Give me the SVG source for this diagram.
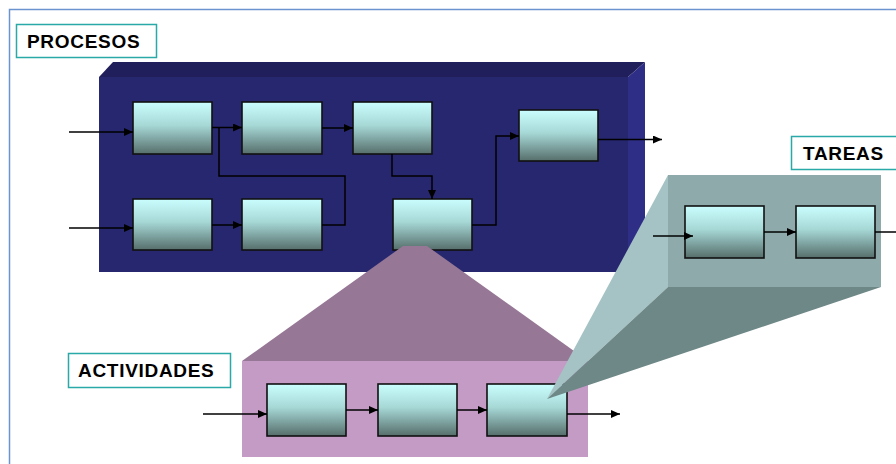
<svg xmlns="http://www.w3.org/2000/svg" width="896" height="464" viewBox="0 0 896 464">
  <defs>
    <linearGradient id="boxGrad" x1="0" y1="0" x2="0" y2="1">
      <stop offset="0" stop-color="#cafefe"/>
      <stop offset="0.45" stop-color="#a6d8d6"/>
      <stop offset="1" stop-color="#566e6b"/>
    </linearGradient>
    <marker id="arr" markerWidth="9" markerHeight="8" refX="9" refY="4" orient="auto" markerUnits="userSpaceOnUse">
      <path d="M0,0 L9,4 L0,8 Z" fill="#000"/>
    </marker>
  </defs>
  <style>
    .box { fill: url(#boxGrad); stroke: #111; stroke-width: 1.6; }
    .conn { fill: none; stroke: #000; stroke-width: 1.5; }
    .lab { fill: #fff; stroke: #2aa9a9; stroke-width: 1.5; }
    .labt { font-family: "Liberation Sans", Arial, sans-serif; font-weight: bold; font-size: 19px; letter-spacing: 0.7px; fill: #000; }
  </style>

  <rect width="896" height="464" fill="#fff"/>
  <!-- outer frame -->
  <path d="M9.5,464 L9.5,9.5 L896,9.5" fill="none" stroke="#6b93cf" stroke-width="1.5"/>

  <!-- PROCESOS panel -->
  <g id="procesos-panel">
    <rect x="99" y="77" width="529" height="195" fill="#27276f"/>
    <polygon points="113,62 645,62 628,77 99,77" fill="#211f5b"/>
    <polygon points="628,77 645,62 645,257 628,272" fill="#2e2e86"/>
  </g>

  <g id="p1"><rect class="box" x="133" y="102" width="79" height="52"/></g>
  <g id="p2"><rect class="box" x="242" y="102" width="80" height="52"/></g>
  <g id="p3"><rect class="box" x="353" y="102" width="79" height="52"/></g>
  <g id="p4"><rect class="box" x="133" y="199" width="79" height="51"/></g>
  <g id="p5"><rect class="box" x="242" y="199" width="80" height="51"/></g>
  <g id="p6"><rect class="box" x="393" y="199" width="79" height="51"/></g>
  <g id="p7"><rect class="box" x="519" y="110" width="79" height="51"/></g>

  <g id="connectors-procesos">
    <path class="conn" d="M69,132 L133,132" marker-end="url(#arr)"/>
    <path class="conn" d="M69,228 L133,228" marker-end="url(#arr)"/>
    <path class="conn" d="M212,127.5 L242,127.5" marker-end="url(#arr)"/>
    <path class="conn" d="M322,128 L353,128" marker-end="url(#arr)"/>
    <path class="conn" d="M219,127.5 L219,176 L345,176 L345,225 L322,225"/>
    <path class="conn" d="M212,225 L242,225" marker-end="url(#arr)"/>
    <path class="conn" d="M392,154 L392,176 L432,176 L432,199" marker-end="url(#arr)"/>
    <path class="conn" d="M472,225 L496,225 L496,136 L519,136" marker-end="url(#arr)"/>
    <path class="conn" d="M598,139.5 L662,139.5" marker-end="url(#arr)"/>
  </g>

  <!-- ACTIVIDADES panel -->
  <g id="actividades-panel">
    <polygon points="403,246 427,246 588,361 242,361" fill="#977796"/>
    <rect x="242" y="361" width="346" height="96" fill="#c39bc5"/>
  </g>

  <g id="a1"><rect class="box" x="267" y="384" width="79" height="52"/></g>
  <g id="a2"><rect class="box" x="378" y="384" width="79" height="52"/></g>
  <g id="a3"><rect class="box" x="487" y="384" width="80" height="52"/></g>

  <g id="connectors-actividades">
    <path class="conn" d="M203,414 L267,414" marker-end="url(#arr)"/>
    <path class="conn" d="M346,410 L378,410" marker-end="url(#arr)"/>
    <path class="conn" d="M457,410 L487,410" marker-end="url(#arr)"/>
    <path class="conn" d="M567,414 L620,414" marker-end="url(#arr)"/>
  </g>

  <!-- TAREAS panel -->
  <g id="tareas-panel">
    <polygon points="668,175 668,287 547,399" fill="#a5c3c4"/>
    <polygon points="668,287 881,287 547,399" fill="#6e8787"/>
    <rect x="668" y="175" width="213" height="112" fill="#8faaab"/>
  </g>

  <g id="t1"><rect class="box" x="685" y="206" width="79" height="52"/></g>
  <g id="t2"><rect class="box" x="796" y="206" width="79" height="52"/></g>

  <g id="connectors-tareas">
    <path class="conn" d="M653,236 L693,236" marker-end="url(#arr)"/>
    <path class="conn" d="M764,232 L796,232" marker-end="url(#arr)"/>
    <path class="conn" d="M875,232 L896,232"/>
  </g>

  <!-- labels -->
  <g id="label-procesos">
    <rect class="lab" x="16.5" y="24.5" width="140" height="33"/>
    <text class="labt" x="27" y="48">PROCESOS</text>
  </g>
  <g id="label-tareas">
    <rect class="lab" x="791.5" y="136.5" width="110" height="33"/>
    <text class="labt" x="803" y="160">TAREAS</text>
  </g>
  <g id="label-actividades">
    <rect class="lab" x="68.5" y="353.5" width="162" height="34"/>
    <text class="labt" x="78" y="377">ACTIVIDADES</text>
  </g>
</svg>
